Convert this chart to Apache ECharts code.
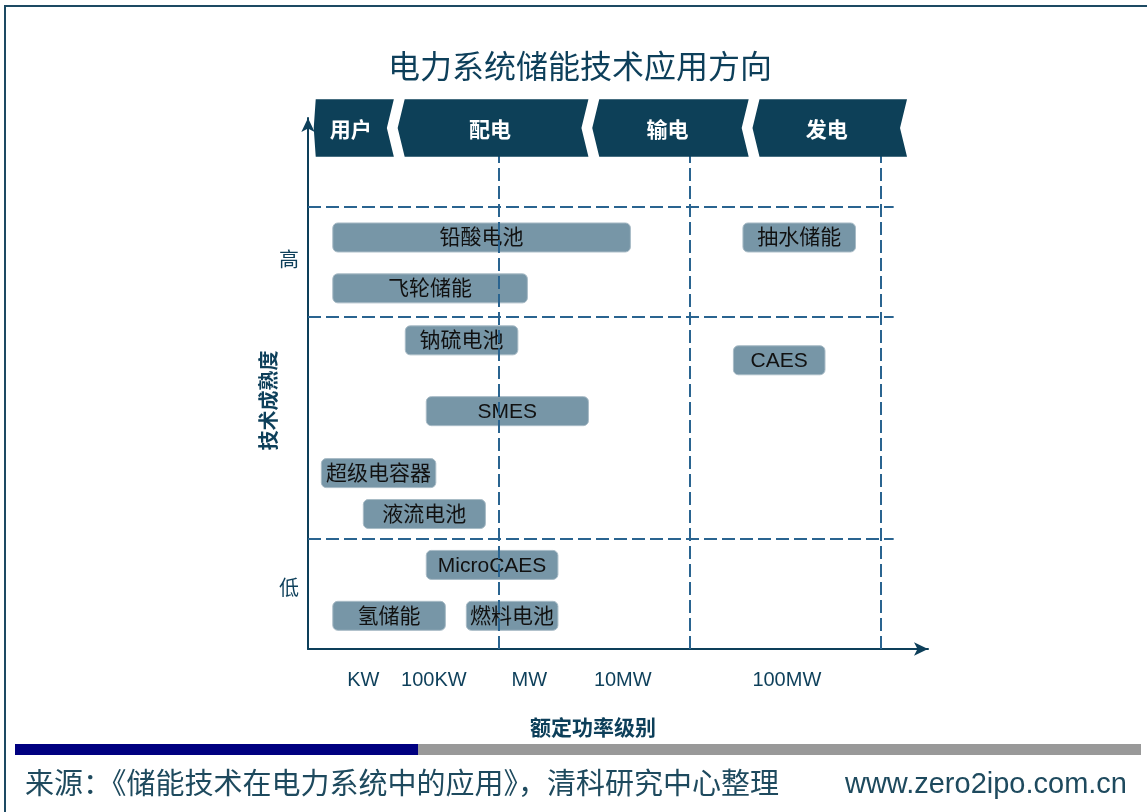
<!DOCTYPE html>
<html>
<head>
<meta charset="utf-8">
<script src="https://cdn.jsdelivr.net/npm/echarts@6/dist/echarts.min.js"></script>
<style>
html,body{margin:0;padding:0;background:#fff;}
#chart{width:1147px;height:812px;}
</style>
</head>
<body>
<div id="chart"></div>
<script>
// ---- data ----
const techNames = ['铅酸电池','抽水储能','飞轮储能','钠硫电池','CAES','SMES','超级电容器','液流电池','MicroCAES','氢储能','燃料电池'];
const techPowerStart = [0.13, 2.28, 0.13, 0.51, 2.23, 0.62, 0.07, 0.29, 0.62, 0.13, 0.83];
const techPowerEnd   = [1.69, 2.87, 1.15, 1.10, 2.71, 1.47, 0.67, 0.93, 1.31, 0.72, 1.31];
const techMaturity   = [3.72, 3.72, 3.26, 2.79, 2.61, 2.15, 1.59, 1.22, 0.76, 0.30, 0.30];

const segmentNames = ['用户','配电','输电','发电'];
const segmentStart = [0.03, 0.47, 1.49, 2.33];
const segmentEnd   = [0.45, 1.47, 2.31, 3.14];

const powerTickLabels = ['KW','100KW','MW','10MW','100MW'];
const powerTickValues = [0.29, 0.66, 1.16, 1.65, 2.51];
const maturityTickLabels = ['低','高'];
const maturityTickValues = [0.54, 3.50];

const powerDividers = [1, 2, 3];
const maturityDividers = [1, 3, 4];

const TITLE = '电力系统储能技术应用方向';
const X_NAME = '额定功率级别';
const Y_NAME = '技术成熟度';
const SOURCE = '来源：《储能技术在电力系统中的应用》，清科研究中心整理';
const SITE = 'www.zero2ipo.com.cn';

// ---- chart ----
const FONT = '"Liberation Sans", "Noto Sans CJK SC", sans-serif';
const DARK = '#0d3f5a';
const X_MAX = 3.25, Y_MAX = 4.8;

const chart = echarts.init(document.getElementById('chart'));

const barData = techNames.map((n, i) => [techPowerStart[i], techPowerEnd[i], techMaturity[i]]);
const segData = segmentNames.map((n, i) => [segmentStart[i], segmentEnd[i]]);

const markLines = [];
powerDividers.forEach(v => markLines.push([{coord: [v, 0]}, {coord: [v, 4.5]}]));
maturityDividers.forEach(v => markLines.push([{coord: [0, v]}, {coord: [3.07, v]}]));

function nearestLabel(values, labels, v) {
  let best = 0, d = 1e9;
  values.forEach((p, i) => { if (Math.abs(p - v) < d) { d = Math.abs(p - v); best = i; } });
  return labels[best];
}

chart.setOption({
  animation: false,
  backgroundColor: '#fff',
  title: [
    {text: TITLE, left: 388, top: 53, padding: 0,
     textStyle: {fontSize: 32, fontWeight: 'normal', color: DARK, fontFamily: FONT}},
    {text: SOURCE, left: 25, top: 771, padding: 0,
     textStyle: {fontSize: 29, fontWeight: 'normal', color: '#1e4a5e', fontFamily: FONT}},
    {text: SITE, right: 20, top: 770, padding: 0,
     textStyle: {fontSize: 29, fontWeight: 'normal', color: '#1e4a5e', fontFamily: FONT}}
  ],
  graphic: [
    {type: 'line', shape: {x1: 5, y1: 6, x2: 1147, y2: 6}, style: {stroke: '#1d4a63', lineWidth: 2}},
    {type: 'line', shape: {x1: 5, y1: 5, x2: 5, y2: 812}, style: {stroke: '#1d4a63', lineWidth: 2}},
    {type: 'rect', shape: {x: 15, y: 744, width: 403, height: 11}, style: {fill: '#000080'}},
    {type: 'rect', shape: {x: 418, y: 744, width: 723, height: 11}, style: {fill: '#999999'}}
  ],
  grid: {left: 308, right: 219, top: 118, bottom: 163},
  xAxis: {
    type: 'value', min: 0, max: X_MAX,
    name: X_NAME, nameLocation: 'middle', nameGap: 70, nameMoveOverlap: false,
    nameTextStyle: {fontSize: 21, fontWeight: 'bold', color: DARK, fontFamily: FONT, padding: [0, 50, 0, 0]},
    axisLine: {show: true, symbol: ['none', 'arrow'], symbolSize: [10, 14], lineStyle: {color: DARK, width: 2}},
    axisTick: {show: false},
    splitLine: {show: false},
    axisLabel: {
      customValues: powerTickValues,
      margin: 21,
      fontSize: 20, color: DARK, fontFamily: FONT,
      formatter: (v) => nearestLabel(powerTickValues, powerTickLabels, v)
    }
  },
  yAxis: {
    type: 'value', min: 0, max: Y_MAX,
    name: Y_NAME, nameLocation: 'middle', nameGap: 28, nameRotate: 90, nameMoveOverlap: false,
    nameTextStyle: {fontSize: 20, fontWeight: 'bold', color: DARK, fontFamily: FONT, padding: [0, 34, 0, 0]},
    axisLine: {show: true, symbol: ['none', 'arrow'], symbolSize: [10, 14], lineStyle: {color: DARK, width: 2}},
    axisTick: {show: false},
    splitLine: {show: false},
    axisLabel: {
      customValues: maturityTickValues,
      margin: 9,
      fontSize: 20, color: DARK, fontFamily: FONT,
      formatter: (v) => nearestLabel(maturityTickValues, maturityTickLabels, v)
    }
  },
  series: [
    {
      type: 'custom', z: 2, clip: false,
      encode: {x: [0, 1], y: 2},
      data: barData,
      renderItem: (params, api) => {
        const p0 = api.coord([api.value(0), api.value(2)]);
        const p1 = api.coord([api.value(1), api.value(2)]);
        const h = 29;
        return {
          type: 'group',
          children: [
            {type: 'rect', shape: {x: p0[0], y: p0[1] - h / 2, width: p1[0] - p0[0], height: h, r: 5},
             style: {fill: '#7796a7', stroke: '#a8bbc6', lineWidth: 1}},
            {type: 'text', z2: 10, style: {text: techNames[params.dataIndex], x: (p0[0] + p1[0]) / 2, y: p0[1] + 1,
             align: 'center', verticalAlign: 'middle', fontSize: 21, fontFamily: FONT, fill: '#111'}}
          ]
        };
      }
    },
    {
      type: 'line', data: [], z: 5, silent: true,
      markLine: {
        silent: true, symbol: 'none', label: {show: false},
        lineStyle: {color: '#2a6490', width: 2, type: [13, 5]},
        data: markLines
      }
    },
    {
      type: 'custom', z: 10, clip: false,
      encode: {x: [0, 1]},
      data: segData,
      renderItem: (params, api) => {
        const top = api.coord([api.value(0), 4.97]);
        const bot = api.coord([api.value(0), 4.45]);
        const xa = top[0];
        const xb = api.coord([api.value(1), 4.97])[0];
        const yt = top[1], yb = bot[1], ym = (yt + yb) / 2;
        const ind = 7;
        const indL = params.dataIndex === 0 ? 2 : ind;
        const pts = [[xa + indL, yt], [xb, yt], [xb - ind, ym], [xb, yb], [xa + indL, yb], [xa, ym]];
        return {
          type: 'group',
          children: [
            {type: 'polygon', shape: {points: pts}, style: {fill: '#0d4058'}},
            {type: 'text', style: {text: segmentNames[params.dataIndex], x: (xa + xb) / 2 - 3, y: ym + 3,
             align: 'center', verticalAlign: 'middle', fontSize: 21, fontWeight: 'bold', fontFamily: FONT, fill: '#fff'}}
          ]
        };
      }
    }
  ]
});
</script>
</body>
</html>
